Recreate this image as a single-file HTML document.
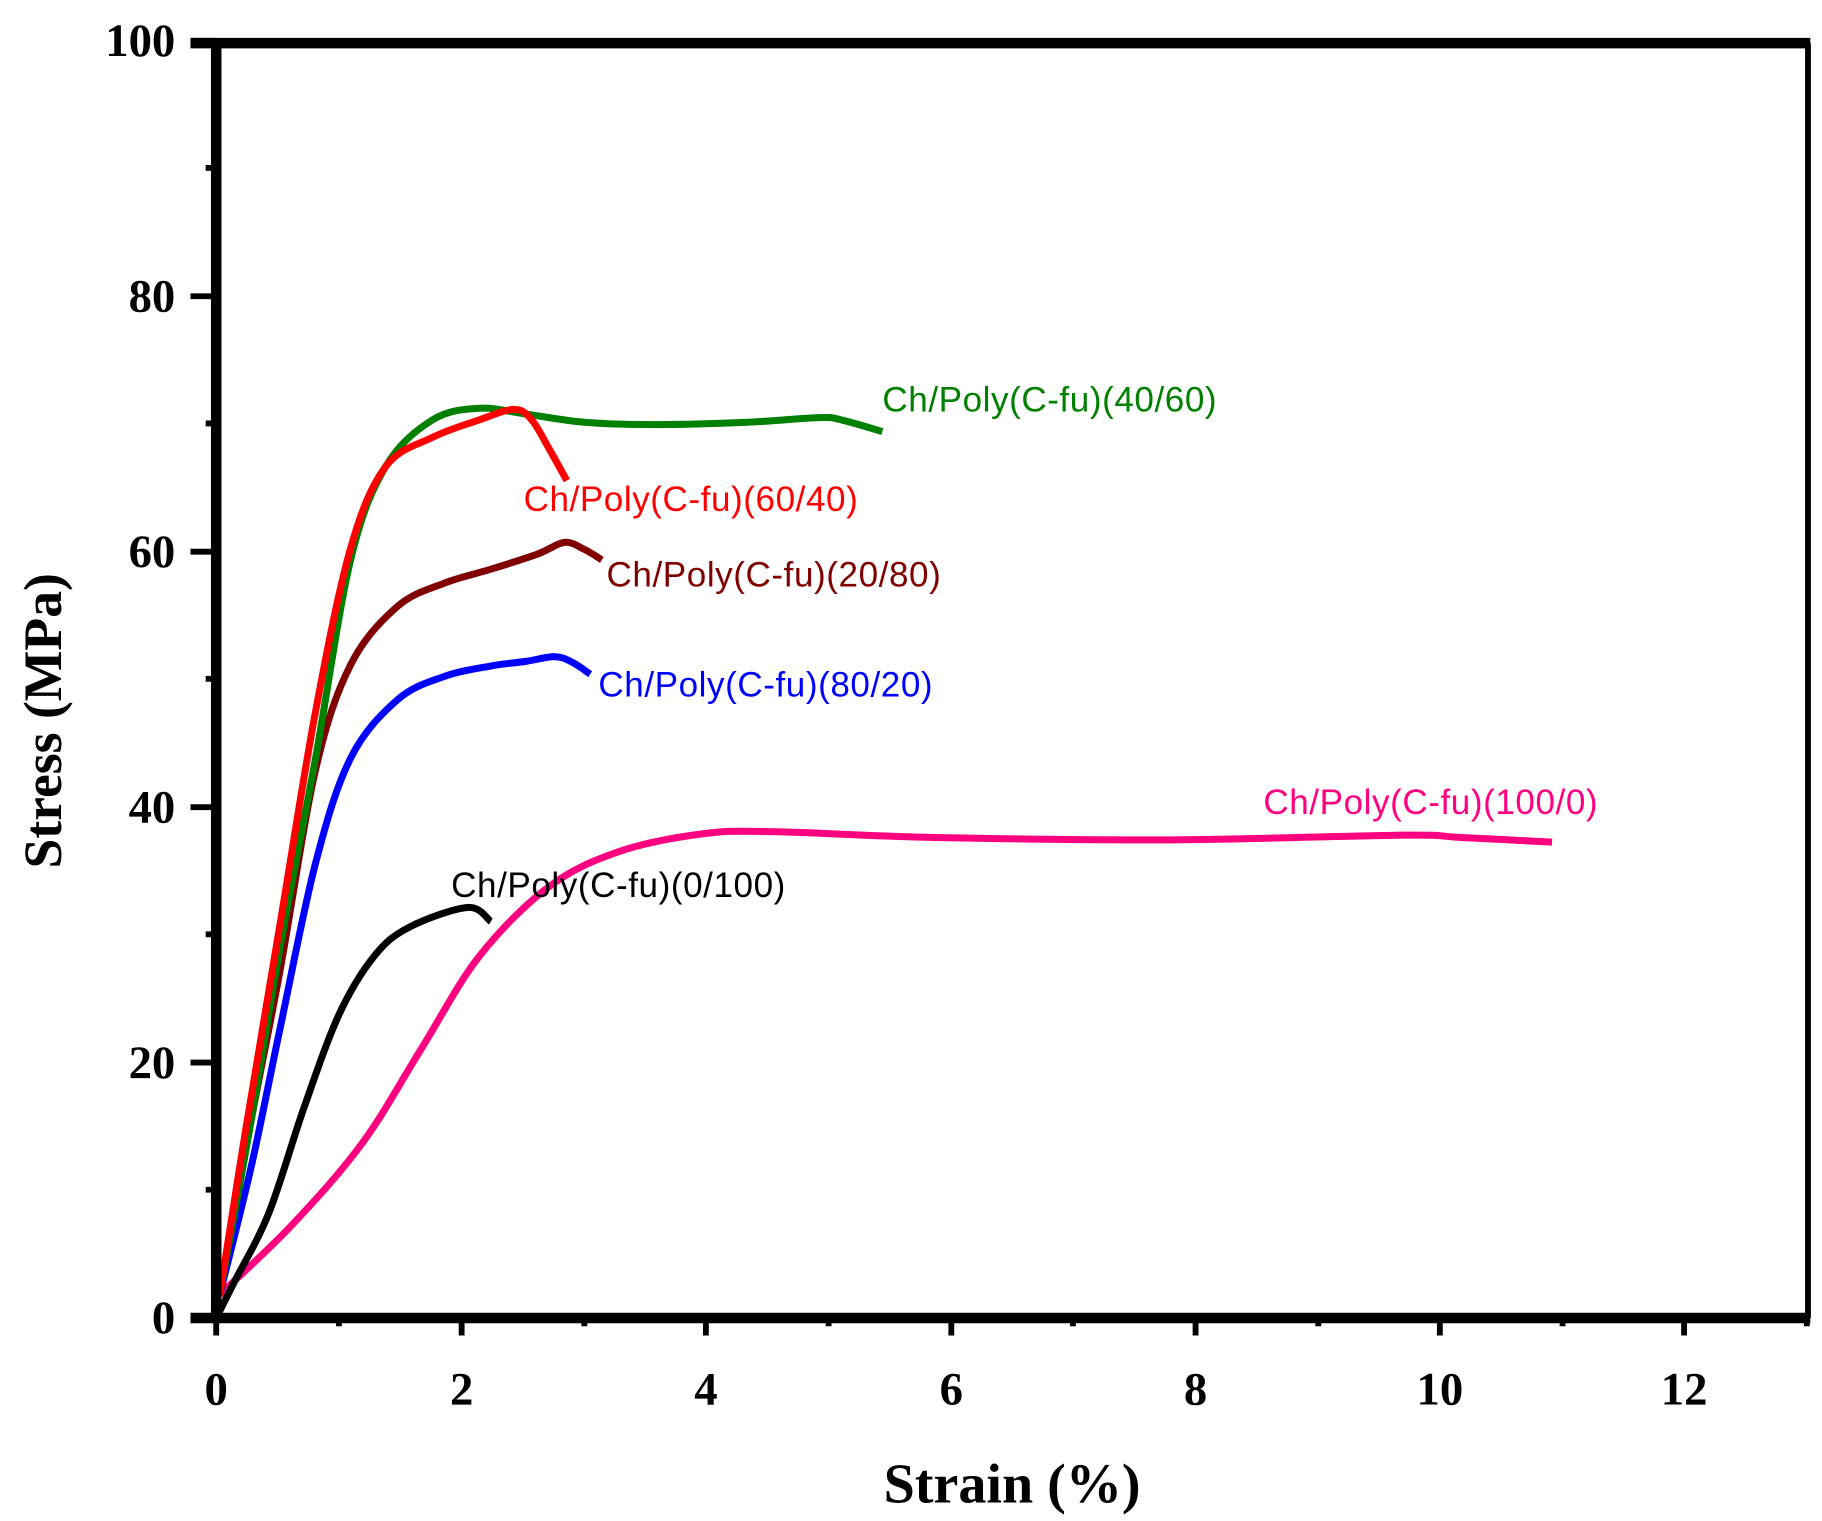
<!DOCTYPE html>
<html><head><style>body{margin:0;background:#fff}svg{display:block}</style></head><body>
<svg id="s" width="1822" height="1521" viewBox="0 0 1559 1304" preserveAspectRatio="none" xmlns="http://www.w3.org/2000/svg">
<rect width="1559" height="1304" fill="#fff"/>
<g fill="none" stroke-width="6" stroke-linejoin="round" stroke-linecap="butt">
<path class="c" stroke="#ff0080" data-p="188,1110 250,1050 310,980 360,900 410,820 470,760 530,730 600,715 660,713 800,718 1000,720 1200,716 1250,718 1328,722"/>
<path class="c" stroke="#000" data-p="185,1130 200,1100 230,1040 260,950 290,870 320,820 350,795 400,778 420,790"/>
<path class="c" stroke="#0000ff" data-p="188,1110 215,1000 240,880 270,740 300,650 340,600 380,580 420,571 450,567 475,563 490,568 505,578"/>
<path class="c" stroke="#800000" data-p="188,1110 215,960 240,830 270,660 300,570 340,520 380,500 420,488 460,475 483,465 500,471 515,480"/>
<path class="c" stroke="#008000" data-p="188,1110 215,960 240,810 270,650 300,480 330,400 370,360 410,350 450,355 500,362 560,364 640,362 700,358 720,360 755,370"/>
<path class="c" stroke="#ff0000" data-p="188,1110 210,970 240,790 270,610 300,470 330,400 370,375 410,360 440,351 455,360 470,385 485,412"/>
</g>
<g stroke="#000" fill="none">
<line x1="1547" y1="37" x2="1547" y2="1130" stroke-width="5"/>
<line x1="163" y1="1130" x2="1549" y2="1130" stroke-width="9"/>
<line x1="163" y1="37" x2="1549" y2="37" stroke-width="9"/>
<line x1="185" y1="37" x2="185" y2="1134" stroke-width="9"/>
<g stroke-width="5">
<path d="M163,1130h22M163,911h22M163,692h22M163,473h22M163,254h22M163,35h22"/>
<path d="M176,1020h9M176,801h9M176,582h9M176,363h9M176,144h9"/>
<path d="M185,1130v15M395,1130v15M604,1130v15M814,1130v15M1023,1130v15M1232,1130v15M1441,1130v15"/>
<path d="M290,1130v7M500,1130v7M709,1130v7M918,1130v7M1128,1130v7M1337,1130v7M1546,1130v7"/>
</g>
</g>
<g font-family="Liberation Serif, serif" font-weight="bold" font-size="40" fill="#000">
<g text-anchor="end">
<text x="150" y="1143">0</text><text x="150" y="924">20</text><text x="150" y="705">40</text>
<text x="150" y="486">60</text><text x="150" y="267">80</text><text x="150" y="48">100</text>
</g>
<g text-anchor="middle">
<text x="185" y="1204">0</text><text x="395" y="1204">2</text><text x="604" y="1204">4</text><text x="814" y="1204">6</text>
<text x="1023" y="1204">8</text><text x="1232" y="1204">10</text><text x="1441" y="1204">12</text>
</g>
<text x="866" y="1288" text-anchor="middle" font-size="48">Strain (%)</text>
<text transform="translate(52,618) rotate(-90)" text-anchor="middle" font-size="46">Stress (MPa)</text>
</g>
<g font-family="Liberation Sans, Arial, sans-serif" font-size="30">
<text x="755" y="353" fill="#008000" textLength="286">Ch/Poly(C-fu)(40/60)</text>
<text x="448" y="438" fill="#ff0000" textLength="286">Ch/Poly(C-fu)(60/40)</text>
<text x="519" y="503" fill="#800000" textLength="286">Ch/Poly(C-fu)(20/80)</text>
<text x="512" y="597" fill="#0000ff" textLength="286">Ch/Poly(C-fu)(80/20)</text>
<text x="1081" y="698" fill="#ff0080" textLength="286">Ch/Poly(C-fu)(100/0)</text>
<text x="386" y="769" fill="#000" textLength="286">Ch/Poly(C-fu)(0/100)</text>
</g>
</svg>
<script>
document.querySelectorAll('path.c').forEach(function(e){
var p=e.getAttribute('data-p').trim().split(/\s+/).map(function(s){return s.split(',').map(Number)});
var d='M'+p[0][0]+','+p[0][1];
for(var i=0;i<p.length-1;i++){
var a=p[i>0?i-1:i],b=p[i],c=p[i+1],n=p[i+2<p.length?i+2:i+1];
var c1=[b[0]+(c[0]-a[0])/6,b[1]+(c[1]-a[1])/6],c2=[c[0]-(n[0]-b[0])/6,c[1]-(n[1]-b[1])/6];
d+=' C'+c1.join(',')+' '+c2.join(',')+' '+c.join(',');}
e.setAttribute('d',d);});
</script>
</body></html>
